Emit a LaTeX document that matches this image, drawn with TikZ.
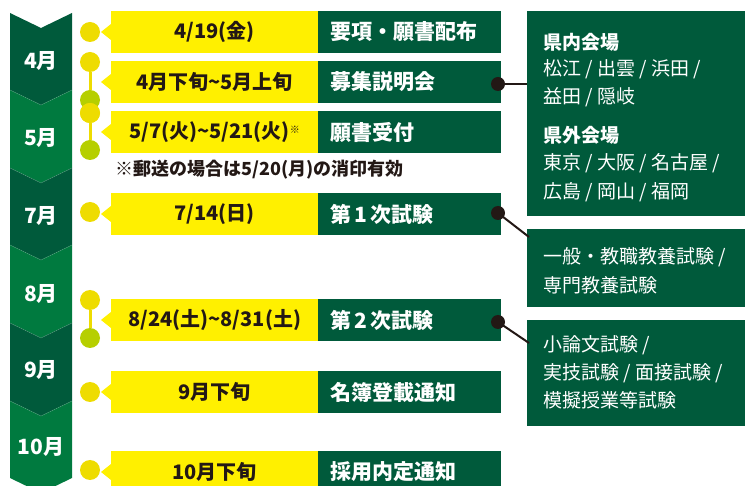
\documentclass[tikz,border=0pt]{standalone}
\usepackage{fontspec}
\setmainfont{Noto Sans CJK JP}
\usetikzlibrary{calc}
\definecolor{dkg}{HTML}{005A3B}
\definecolor{ltg}{HTML}{007A3F}
\definecolor{yel}{HTML}{FFF000}
\definecolor{ydot}{HTML}{EEDC00}
\definecolor{ldot}{HTML}{B6CF00}
\definecolor{blk}{HTML}{231815}
\tikzset{
  mlabel/.style={text=white,font=\fontsize{21}{21}\selectfont\bfseries},
  ybox/.style={fill=yel,minimum width=207,minimum height=42,inner sep=0,anchor=west,text=blk,font=\fontsize{20}{20}\selectfont\bfseries},
  gbox/.style={fill=dkg,minimum width=183,minimum height=42,text width=159,inner xsep=12,inner ysep=0,align=left,anchor=west,text=white,font=\fontsize{21}{21}\selectfont\bfseries},
  ydotn/.style={circle,fill=ydot,minimum size=20,inner sep=0},
  ldotn/.style={circle,fill=ldot,minimum size=20,inner sep=0},
  bdotn/.style={circle,fill=blk,minimum size=14,inner sep=0},
  rbox/.style={fill=dkg,minimum width=218,inner sep=0,anchor=north west},
  rtxt/.style={anchor=west,inner sep=0,text=white,font=\fontsize{19}{19}\selectfont},
  rhead/.style={anchor=west,inner sep=0,text=white,font=\fontsize{19}{19}\selectfont\bfseries},
  yline/.style={draw=ydot,line width=3},
  cline/.style={draw=blk,line width=2},
}
\newcommand{\ptr}[1]{\fill[yel] ($(#1.west)+(0,-8)$) -- ($(#1.west)+(-10,0)$) -- ($(#1.west)+(0,8)$) -- cycle;}
\begin{document}
\begin{tikzpicture}[x=1pt,y=-1pt]
\useasboundingbox (0,0) rectangle (745,486);
\begin{scope}
\clip (0,0) rectangle (745,486);
% month column
\foreach \ya/\yb/\c in {13/90/dkg,90/168/ltg,168/245/dkg,245/323/ltg,323/401/dkg,401/478/ltg}{
  \fill[\c] (10,\ya) -- (41,\ya+15) -- (72,\ya) -- (72,\yb) -- (41,\yb+15) -- (10,\yb) -- cycle;
}
\foreach \yb in {90,168,245,323,401}{
  \draw[white,opacity=0.15,line width=0.6] (10,\yb) -- (41,\yb+15) -- (72,\yb);
}
\node[mlabel] (m4) at (41,61) {4月};
\node[mlabel] (m5) at (41,138) {5月};
\node[mlabel] (m7) at (41,216) {7月};
\node[mlabel] (m8) at (41,294) {8月};
\node[mlabel] (m9) at (41,370) {9月};
\node[mlabel] (m10) at (41,447) {10月};

% rows
\node[ybox] (y1) at (111,32) {4/19(金)};
\node[gbox] (g1) at (318,32) {要項・願書配布};
\node[ybox] (y2) at (111,82) {4月下旬\textasciitilde 5月上旬};
\node[gbox] (g2) at (318,82) {募集説明会};
\node[ybox] (y3) at (111,132) {5/7(火)\textasciitilde 5/21(火)\raisebox{5pt}{\fontsize{10}{10}\selectfont ※}};
\node[gbox] (g3) at (318,132) {願書受付};
\node[anchor=west,inner sep=0,text=blk,font=\fontsize{18}{18}\selectfont\bfseries] (note) at (115,170) {※郵送の場合は5/20(月)の消印有効};
\node[ybox] (y4) at (111,214) {7/14(日)};
\node[gbox] (g4) at (318,214) {第\,1\,次試験};
\node[ybox] (y5) at (111,320) {8/24(土)\textasciitilde 8/31(土)};
\node[gbox] (g5) at (318,320) {第\,2\,次試験};
\node[ybox] (y6) at (111,392) {9月下旬};
\node[gbox] (g6) at (318,392) {名簿登載通知};
\node[ybox] (y7) at (111,472) {10月下旬};
\node[gbox] (g7) at (318,472) {採用内定通知};
\foreach \n in {y1,y2,y3,y4,y5,y6,y7}{\ptr{\n}}

% dots
\node[ydotn] (d1) at (90,32) {};
\node[ydotn] (d2a) at (90,62) {};
\node[ldotn] (d2b) at (90,100) {};
\node[ydotn] (d3a) at (90,113) {};
\node[ldotn] (d3b) at (90,150) {};
\node[ydotn] (d4) at (90,212) {};
\node[ydotn] (d5a) at (90,300) {};
\node[ldotn] (d5b) at (90,338) {};
\node[ydotn] (d6) at (90,392) {};
\node[ydotn] (d7) at (90,470) {};
\draw[yline] (d2a) -- (d2b);
\draw[yline] (d3a) -- (d3b);
\draw[yline] (d5a) -- (d5b);
\node[ydotn] (d3c) at (90,113) {};

% right boxes
\node[rbox,minimum height=205] (ra) at (527,11) {};
\node[rbox,minimum height=78] (rb) at (527,229) {};
\node[rbox,minimum height=106] (rc) at (527,320) {};
\node[rhead] (a1) at (543,42) {県内会場};
\node[rtxt] (a2) at (543,69) {松江 / 出雲 / 浜田 /};
\node[rtxt] (a3) at (543,97) {益田 / 隠岐};
\node[rhead] (a4) at (543,135) {県外会場};
\node[rtxt] (a5) at (543,163) {東京 / 大阪 / 名古屋 /};
\node[rtxt] (a6) at (543,192) {広島 / 岡山 / 福岡};
\node[rtxt] (b1) at (543,257) {一般・教職教養試験 /};
\node[rtxt] (b2) at (543,285) {専門教養試験};
\node[rtxt] (c1t) at (543,345) {小論文試験 /};
\node[rtxt] (c2t) at (543,373) {実技試験 / 面接試験 /};
\node[rtxt] (c3t) at (543,400) {模擬授業等試験};

% connectors
\node[bdotn] (k1) at (498,84) {};
\node[bdotn] (k2) at (498,213) {};
\node[bdotn] (k3) at (498,322) {};
\coordinate (kb) at (529,237);
\coordinate (kc) at (529,343);
\draw[cline] (k1.center) -- (k1 -| ra.west);
\draw[cline] (k2.center) -- (kb);
\draw[cline] (k3.center) -- (kc);
\end{scope}
\end{tikzpicture}
\end{document}
